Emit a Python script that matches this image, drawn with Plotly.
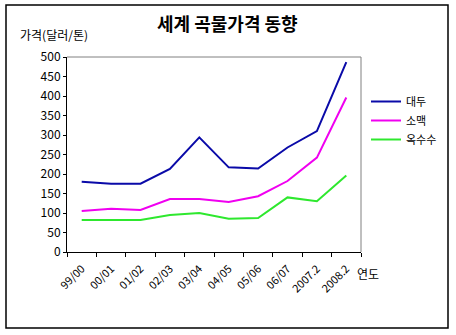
import plotly.graph_objects as go

# 연도별 곡물 가격 (달러/톤)
years = ["99/00", "00/01", "01/02", "02/03", "03/04", "04/05",
         "05/06", "06/07", "2007.2", "2008.2"]
soybean = [180, 175, 175, 213, 294, 217, 214, 268, 310, 487]
wheat = [105, 111, 108, 136, 136, 128, 143, 182, 242, 396]
corn = [82, 82, 82, 95, 100, 85, 87, 140, 130, 196]

series = [
    ("대두", soybean, "#0A0AA8"),
    ("소맥", wheat, "#F000F0"),
    ("옥수수", corn, "#2EE82E"),
]

W, H = 456, 335
L, R, T, B = 67, 95, 57, 83
pw, ph = W - L - R, H - T - B

FONT = "Noto Sans CJK KR, Liberation Sans, sans-serif"

fig = go.Figure()
for name, vals, color in series:
    fig.add_trace(go.Scatter(
        x=years, y=vals, name=name, mode="lines",
        line=dict(color=color, width=2),
    ))


def px_x(x):
    return (x - L) / pw


def px_y(y):
    return (H - B - y) / ph


fig.update_layout(
    width=W, height=H,
    margin=dict(l=L, r=R, t=T, b=B),
    paper_bgcolor="white", plot_bgcolor="white",
    font=dict(family=FONT, size=12, color="black"),
    showlegend=True,
    legend=dict(
        x=px_x(366), y=px_y(87), xanchor="left", yanchor="top",
        font=dict(size=11, family=FONT), tracegroupgap=0,
        bgcolor="rgba(0,0,0,0)", itemwidth=30,
    ),
    xaxis=dict(
        type="category", showgrid=False, showline=True,
        linecolor="black", linewidth=1, mirror=False,
        ticks="outside", ticklen=4, tickcolor="black",
        tickson="boundaries", tickangle=-45, ticklabelstandoff=5,
        tickfont=dict(size=11, family=FONT),
        range=[-0.5, 9.5], fixedrange=True,
    ),
    yaxis=dict(
        range=[0, 500], dtick=50, showgrid=False, showline=True,
        linecolor="black", linewidth=1, zeroline=False,
        ticks="outside", ticklen=3, tickcolor="black",
        tickfont=dict(size=12, family=FONT), fixedrange=True,
    ),
    shapes=[
        # 그래프 영역 위쪽과 오른쪽 테두리
        dict(type="line", xref="paper", yref="paper", x0=0, y0=1, x1=1, y1=1,
             line=dict(color="#808080", width=1)),
        dict(type="line", xref="paper", yref="paper", x0=1, y0=0, x1=1, y1=1,
             line=dict(color="#808080", width=1)),
        # 차트 전체 테두리
        dict(type="rect", xref="paper", yref="paper",
             x0=px_x(6), y0=px_y(328), x1=px_x(448), y1=px_y(5),
             line=dict(color="black", width=1.5)),
    ],
    annotations=[
        dict(text="<b>세계 곡물가격 동향</b>", xref="paper", yref="paper",
             x=px_x(227), y=px_y(23), xanchor="center", yanchor="middle",
             showarrow=False, font=dict(size=18, family=FONT)),
        dict(text="가격(달러/톤)", xref="paper", yref="paper",
             x=px_x(18), y=px_y(34), xanchor="left", yanchor="middle",
             showarrow=False, font=dict(size=12, family=FONT)),
        dict(text="연도", xref="paper", yref="paper",
             x=px_x(355), y=px_y(273), xanchor="left", yanchor="middle",
             showarrow=False, font=dict(size=12, family=FONT)),
    ],
)

fig.write_html("out.html")
